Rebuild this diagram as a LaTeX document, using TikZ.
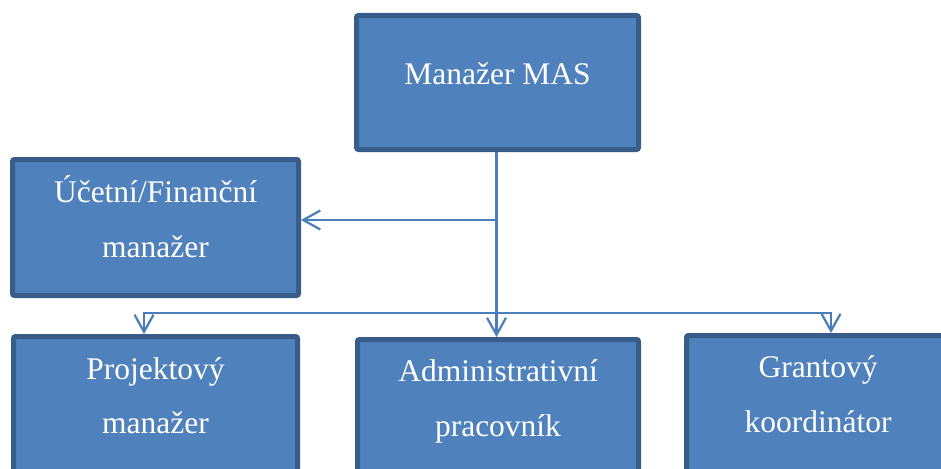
\documentclass[tikz,border=0pt]{standalone}
\usepackage{fontspec}
\setmainfont{Liberation Serif}
\usetikzlibrary{arrows.meta}
\definecolor{boxfill}{HTML}{4F81BD}
\definecolor{boxline}{HTML}{385D8A}
\definecolor{conn}{HTML}{4A7EBB}
\begin{document}
\begin{tikzpicture}[x=1pt,y=-1pt,
  box/.style={draw=boxline,fill=boxfill,line width=5pt,rounded corners=2pt,inner sep=0pt},
  txt/.style={text=white,font=\fontsize{31.5}{36}\selectfont,anchor=base,inner sep=0pt},
  link/.style={draw=conn,line width=2.2pt},
  arr/.style={link,-{Straight Barb[length=17pt,width=19pt,line width=2.2pt]}}]
\useasboundingbox (0,0) rectangle (941,468);
\clip (0,0) rectangle (941,468);
% boxes
\node[box,minimum width=282pt,minimum height=134pt] (mas) at (497.5,82.5) {};
\node[box,minimum width=286pt,minimum height=136pt] (ucet) at (155.5,227.5) {};
\node[box,minimum width=284pt,minimum height=143pt] (proj) at (155.5,408) {};
\node[box,minimum width=281pt,minimum height=143pt] (admin) at (498,411) {};
\node[box,minimum width=263pt,minimum height=143pt] (grant) at (818,407) {};
% texts
\node[txt] (t1) at (497.5,85) {Manažer MAS};
\node[txt] (t2a) at (155.5,202) {Účetní/Finanční};
\node[txt] (t2b) at (155.5,257) {manažer};
\node[txt] (t3a) at (155.5,379) {Projektový};
\node[txt] (t3b) at (155.5,433) {manažer};
\node[txt] (t4a) at (498,381) {Administrativní};
\node[txt] (t4b) at (498,436) {pracovník};
\node[txt] (t5a) at (818,377) {Grantový};
\node[txt] (t5b) at (818,432) {koordinátor};
% connectors
\coordinate (trunk) at (496.5,152);
\coordinate (side) at (496.5,220);
\coordinate (bl) at (144,313);
\coordinate (br) at (831,313);
\draw[arr] (mas.south -| trunk) -- (trunk |- admin.north);
\draw[arr] (side) -- (ucet.east |- side);
\draw[arr] (trunk |- bl) -- (bl) -- (bl |- proj.north);
\draw[arr] (trunk |- br) -- (br) -- (br |- grant.north);
\end{tikzpicture}
\end{document}
